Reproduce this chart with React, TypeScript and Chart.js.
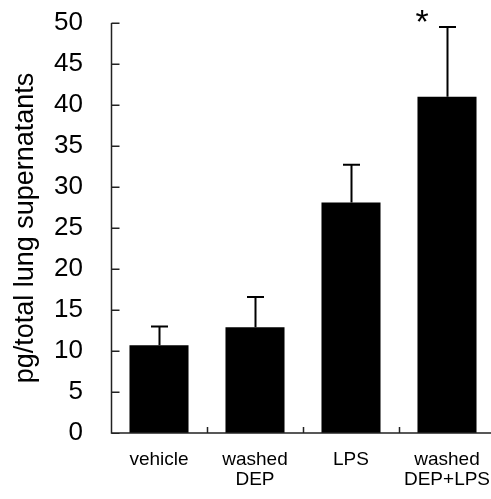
import React, { useEffect, useRef } from "react";
import { Chart, registerables } from "chart.js";

Chart.register(...registerables);

const categories: string[][] = [["vehicle"], ["washed", "DEP"], ["LPS"], ["washed", "DEP+LPS"]];
const means: number[] = [10.7, 12.9, 28.1, 41.0];
const errorTops: number[] = [13.0, 16.6, 32.7, 49.5];
const significance: string[] = ["", "", "", "*"];
const yTitle = "pg/total lung supernatants";
const yMin = 0;
const yMax = 50;
const yStep = 5;

const FONT = "'Liberation Sans', Arial, Helvetica, sans-serif";

const axesPlugin = {
  id: "customAxes",
  afterDatasetsDraw(chart: any) {
    const { ctx, chartArea, scales } = chart;
    const x = scales.x;
    const y = scales.y;
    const meta = chart.getDatasetMeta(0);
    ctx.save();
    // error bars
    ctx.strokeStyle = "#000";
    ctx.lineWidth = 2;
    meta.data.forEach((bar: any, i: number) => {
      const cx = Math.round(bar.x) + 0.5;
      const yTop = y.getPixelForValue(errorTops[i]);
      const yBar = y.getPixelForValue(means[i]);
      ctx.beginPath();
      ctx.moveTo(cx, yBar);
      ctx.lineTo(cx, yTop);
      ctx.moveTo(cx - 8.5, yTop);
      ctx.lineTo(cx + 8.5, yTop);
      ctx.stroke();
      if (significance[i]) {
        ctx.fillStyle = "#000";
        ctx.font = `34px ${FONT}`;
        ctx.textAlign = "center";
        ctx.textBaseline = "middle";
        ctx.fillText(significance[i], bar.x - 25, y.getPixelForValue(errorTops[i]) - 3);
      }
    });
    // axes
    ctx.strokeStyle = "#222";
    ctx.lineWidth = 1.5;
    const left = chartArea.left + 0.5;
    const bottom = chartArea.bottom;
    ctx.beginPath();
    ctx.moveTo(left, y.getPixelForValue(yMax));
    ctx.lineTo(left, bottom);
    ctx.lineTo(chartArea.right, bottom);
    for (let v = yMin; v <= yMax; v += yStep) {
      const py = Math.round(y.getPixelForValue(v)) + 0.25;
      ctx.moveTo(left, py);
      ctx.lineTo(left + 8, py);
    }
    for (let i = 1; i < categories.length; i++) {
      const px = Math.round((x.getPixelForValue(i - 1) + x.getPixelForValue(i)) / 2) + 0.5;
      ctx.moveTo(px, bottom);
      ctx.lineTo(px, bottom - 6);
    }
    ctx.stroke();
    ctx.restore();
  },
};

export default function App() {
  const ref = useRef<HTMLCanvasElement | null>(null);
  useEffect(() => {
    if (!ref.current) return;
    const chart = new Chart(ref.current, {
      type: "bar",
      data: {
        labels: categories,
        datasets: [
          {
            data: means,
            backgroundColor: "#000",
            borderWidth: 0,
            barPercentage: 0.615,
            categoryPercentage: 1,
          },
        ],
      },
      options: {
        responsive: false,
        animation: false,
        devicePixelRatio: 1,
        layout: { padding: { top: 23, right: 10, left: 0, bottom: 0 } },
        plugins: { legend: { display: false }, tooltip: { enabled: false } },
        scales: {
          x: {
            offset: true,
            grid: { display: false, drawTicks: true, tickLength: 17 },
            border: { display: false },
            ticks: {
              color: "#000",
              padding: 0,
              font: { family: FONT, size: 19, lineHeight: 20 / 19 },
              maxRotation: 0,
              autoSkip: false,
            },
            afterFit(scale: any) {
              scale.height = 66;
            },
          },
          y: {
            min: yMin,
            max: yMax,
            grid: { display: false, drawTicks: true, tickLength: 28 },
            border: { display: false },
            ticks: {
              stepSize: yStep,
              color: "#000",
              padding: 0,
              font: { family: FONT, size: 26 },
            },
            title: {
              display: true,
              text: yTitle,
              color: "#000",
              font: { family: FONT, size: 27, lineHeight: 1.2 },
              padding: { top: 9, bottom: 0 },
            },
            afterFit(scale: any) {
              scale.width = 111;
            },
          },
        },
      },
      plugins: [axesPlugin],
    });
    return () => chart.destroy();
  }, []);
  return (
    <div style={{ position: "absolute", left: 0, top: 0, width: 491, height: 499, overflow: "hidden", background: "#fff" }}>
      <canvas ref={ref} width={505} height={499} style={{ display: "block" }} />
    </div>
  );
}
